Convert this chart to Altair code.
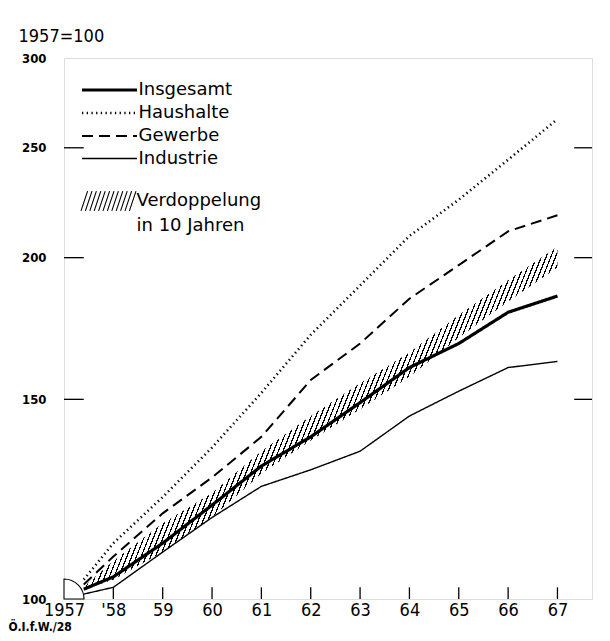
import altair as alt
import pandas as pd

# ---- data ----
years = [1957.4, 1958, 1959, 1960, 1961, 1962, 1963, 1964, 1965, 1966, 1967]
insgesamt = [102, 104.6, 112, 121, 131, 139, 149, 160, 168, 179, 185]
haushalte = [104, 112, 123, 136, 152, 171, 189, 209, 225, 244, 265]
gewerbe = [103, 109, 119, 128, 139, 156, 168, 184, 197, 211, 218]
industrie = [101, 102.4, 110, 118, 125.7, 130, 135, 145, 152.5, 160, 162]
band_low = [102, 104, 110, 118, 129, 138, 147, 157, 170, 183, 196]
band_high = [102.5, 108, 116.6, 124, 135, 145, 155, 165, 178, 191, 204.5]
series = ["Insgesamt", "Haushalte", "Gewerbe", "Industrie"]
band_labels = ["Verdoppelung", "in 10 Jahren"]
tick_years = [1957, 1958, 1959, 1960, 1961, 1962, 1963, 1964, 1965, 1966, 1967]
y_ticks = [100, 150, 200, 250, 300]
inner_y_ticks = [150, 200, 250]

FONT = "DejaVu Sans Condensed, Liberation Sans Narrow, DejaVu Sans"
LFONT = "DejaVu Sans"

lines_df = pd.DataFrame({
    "Jahr": years * 4,
    "Wert": insgesamt + haushalte + gewerbe + industrie,
    "Reihe": [s for s in series for _ in years],
})
band_df = pd.DataFrame({"Jahr": years, "lo": band_low, "hi": band_high,
                        "kind": [band_labels[0]] * len(years)})
origin_df = pd.DataFrame({"Jahr": [tick_years[0]], "Wert": [y_ticks[0]]})
ytick_df = pd.DataFrame({
    "x1": [1957] * 3 + [1967.34] * 3,
    "x2": [1957.4] * 3 + [1967.7] * 3,
    "y": inner_y_ticks * 2,
})
xtick_df = pd.DataFrame({"x": tick_years[1:], "y1": [100] * 10, "y2": [102.4] * 10})

xscale = alt.Scale(domain=[1957, 1967.7], nice=False, zero=False)
yscale = alt.Scale(type="log", domain=[100, 300], nice=False)

xaxis = alt.Axis(
    values=tick_years, grid=False, ticks=False, domain=False,
    labelExpr='datum.value == 1957 ? "1957" : datum.value == 1958 ? "\'58" : substring(toString(datum.value), 2)',
    labelFontSize=18, labelFont=FONT, labelColor="black", labelPadding=2, labelFlush=False,
    title="Ö.I.f.W./28", titleX=-56, titleY=34, titleAlign="left", titleBaseline="bottom",
    titleFontSize=12, titleFontWeight="bold", titleFont=FONT, titleColor="black",
)
yaxis = alt.Axis(
    values=y_ticks, grid=False, ticks=False, domain=False,
    labelFontSize=13, labelFontWeight="bold", labelFont=FONT, labelColor="black", labelPadding=18,
    title="1957=100", titleAngle=0, titleX=-46, titleY=-17, titleAlign="left",
    titleBaseline="alphabetic", titleFontSize=18, titleFontWeight="normal", titleFont=FONT,
    titleColor="black",
)

N = 108
stops = []
for i in range(N):
    a = i / N
    b = (i + 0.28) / N
    c = (i + 1) / N
    stops += [
        {"offset": a, "color": "black"},
        {"offset": b, "color": "black"},
        {"offset": b, "color": "white"},
        {"offset": c, "color": "white"},
    ]
grad = {"gradient": "linear", "x1": 0, "y1": 0, "x2": 1, "y2": 0.289, "stops": stops}

hatch_path = "".join(
    f"M{-2.5 + i * 0.4:.2f},0.9L{-2.5 + i * 0.4 + 0.6:.2f},-0.9" for i in range(12)
)

leg1 = alt.Legend(
    title=None, orient="none", legendX=32.5, legendY=19,
    symbolType="M-2.5,0H2.5", symbolSize=484, symbolStrokeColor="black",
    symbolFillColor="transparent",
    labelFontSize=18, labelFont=LFONT, labelColor="black", labelOffset=16, rowPadding=1.5,
)
leg2 = alt.Legend(
    title=None, orient="none", legendX=32.5, legendY=131,
    symbolSize=484, symbolStrokeColor="black", symbolStrokeWidth=1.1,
    symbolFillColor="transparent", symbolOpacity=1,
    labelFontSize=18, labelFont=LFONT, labelColor="black", labelOffset=16, rowPadding=0,
)

X = lambda f: alt.X(f, scale=xscale, axis=xaxis)
Y = lambda f: alt.Y(f, scale=yscale, axis=yaxis)

band = alt.Chart(band_df).mark_area(fill=grad).encode(
    x=X("Jahr:Q"), y=Y("lo:Q"), y2="hi:Q",
)

# legend carrier for the hatched band (no visible marks)
band_key = alt.Chart(band_df).transform_filter("false").mark_point(
    filled=False, color="black", strokeWidth=1.1
).encode(
    x=X("Jahr:Q"), y=Y("hi:Q"),
    shape=alt.Shape("kind:N", scale=alt.Scale(domain=band_labels, range=[hatch_path, "M0,0"]),
                    legend=leg2),
)

origin = alt.Chart(origin_df).mark_arc(
    theta=0, theta2=1.5708, radius=20, fill="white", stroke="black", strokeWidth=1.1
).encode(x=X("Jahr:Q"), y=Y("Wert:Q"))

lines = alt.Chart(lines_df).mark_line(color="black", strokeCap="butt").encode(
    x=X("Jahr:Q"), y=Y("Wert:Q"),
    strokeDash=alt.StrokeDash("Reihe:O", sort=series,
                              scale=alt.Scale(domain=series, range=[[1, 0], [1.3, 3.4], [11, 6], [1, 0]]),
                              legend=leg1),
    strokeWidth=alt.StrokeWidth("Reihe:O", sort=series,
                                scale=alt.Scale(domain=series, range=[3.2, 1.4, 2, 1.5]),
                                legend=leg1),
)

yticks = alt.Chart(ytick_df).mark_rule(color="black", strokeWidth=1.3).encode(
    x=X("x1:Q"), x2="x2:Q", y=Y("y:Q")
)
xticks = alt.Chart(xtick_df).mark_rule(color="black", strokeWidth=1.3).encode(
    x=X("x:Q"), y=Y("y1:Q"), y2="y2:Q"
)

chart = alt.layer(band, band_key, origin, lines, yticks, xticks).properties(
    width=528, height=541,
    autosize=alt.AutoSizeParams(type="none"),
    padding={"left": 56, "top": 50, "right": 10, "bottom": 34},
).configure_view(stroke="black", strokeWidth=1.3).configure(background="white")

chart.save("out.html", embed_options={"renderer": "svg", "actions": False})
